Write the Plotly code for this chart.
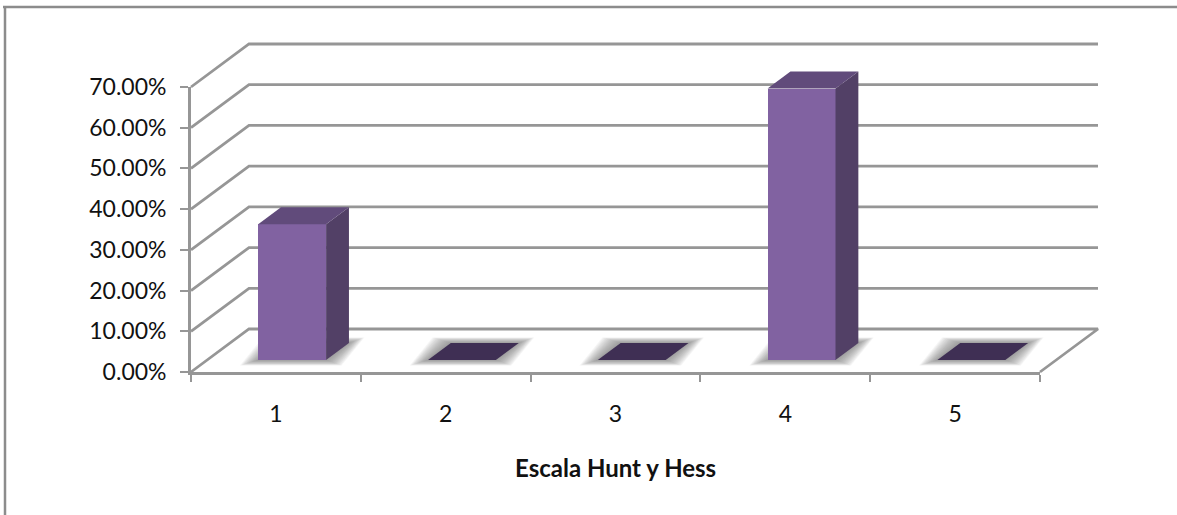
import plotly.graph_objects as go

# Datos del gráfico
categorias = [1, 2, 3, 4, 5]
porcentajes = [0.3333, 0.0, 0.0, 0.6667, 0.0]
marcas_y = [0.0, 0.1, 0.2, 0.3, 0.4, 0.5, 0.6, 0.7]
titulo_x = "Escala Hunt y Hess"

W, H = 1177, 515
FONT = "Lato"
GRIS = "#969696"

# Escala de los ejes frontales en píxeles por unidad
PX_X = 849 / 5
PX_Y = 285 / 0.7

# Proyección oblicua: desplazamiento del fondo en unidades de los ejes
DX = 58 / PX_X
DY = 43 / PX_Y
D_FRENTE, D_FONDO = 0.28, 0.674
ANCHO = 0.40

# Posición de los ejes frontales dentro de la página
X_IZQ, X_DER = 191, 1040
Y_ARR, Y_ABA = 87, 372
PAD = 8  # holgura para que las líneas del fondo no se recorten


def proy(x, v, d):
    return x + d * DX, v + d * DY


def poligono(puntos, color, eje=""):
    xs = [p[0] for p in puntos] + [puntos[0][0]]
    ys = [p[1] for p in puntos] + [puntos[0][1]]
    return go.Scatter(
        x=xs, y=ys, mode="lines", fill="toself", fillcolor=color,
        line=dict(width=0), hoverinfo="skip",
        showlegend=False, xaxis="x" + eje, yaxis="y" + eje,
    )


fig = go.Figure()
x_ini, x_fin = categorias[0] - 0.5, categorias[-1] + 0.5

# Paredes y suelo
for v in marcas_y:
    a = proy(x_ini, v, 0)
    b = proy(x_ini, v, 1)
    c = proy(x_fin, v, 1)
    xs, ys = [a[0], b[0], c[0]], [a[1], b[1], c[1]]
    if v == 0:
        d = proy(x_fin, v, 0)
        xs.append(d[0])
        ys.append(d[1])
    fig.add_trace(go.Scatter(
        x=xs, y=ys, mode="lines", line=dict(color=GRIS, width=2.8),
        hoverinfo="skip", showlegend=False,
    ))

# Sombra difusa sobre el suelo
for cat in categorias:
    x0 = cat - ANCHO / 2
    x1 = cat + ANCHO / 2
    for k in range(14, 0, -1):
        ex_izq = k * 1.3 / PX_X
        ex_der = k * 1.1 / PX_X
        ey = k * 0.4 / PX_Y
        fig.add_trace(poligono([
            (proy(x0, 0, D_FRENTE)[0] - ex_izq, proy(x0, 0, D_FRENTE)[1] - ey),
            (proy(x1, 0, D_FRENTE)[0] + ex_der, proy(x1, 0, D_FRENTE)[1] - ey),
            (proy(x1, 0, D_FONDO)[0] + ex_der, proy(x1, 0, D_FONDO)[1] + ey),
            (proy(x0, 0, D_FONDO)[0] - ex_izq, proy(x0, 0, D_FONDO)[1] + ey),
        ], "rgba(120,120,120,0.07)"))

# Ejes frontales visibles: necesitan un trazo propio, sin marcas
fig.add_trace(go.Scatter(
    x=categorias, y=porcentajes, mode="none", hoverinfo="skip",
    showlegend=False, xaxis="x2", yaxis="y2",
))

# Caras frontales de las columnas
fig.add_trace(go.Bar(
    x=[proy(c, 0, D_FRENTE)[0] for c in categorias],
    y=porcentajes,
    base=[proy(0, 0, D_FRENTE)[1]] * len(categorias),
    width=ANCHO,
    marker=dict(color="#8162a1", line=dict(width=0)),
    showlegend=False, xaxis="x3", yaxis="y3",
))

# Caras lateral y superior
for cat, v in zip(categorias, porcentajes):
    x0 = cat - ANCHO / 2
    x1 = cat + ANCHO / 2
    if v > 0:
        fig.add_trace(poligono([
            proy(x1, 0, D_FRENTE), proy(x1, 0, D_FONDO),
            proy(x1, v, D_FONDO), proy(x1, v, D_FRENTE),
        ], "#524066", "3"))
    fig.add_trace(poligono([
        proy(x0, v, D_FRENTE), proy(x1, v, D_FRENTE),
        proy(x1, v, D_FONDO), proy(x0, v, D_FONDO),
    ], "#614b7b" if v > 0 else "#3f2f54", "3"))

# Marco completo (ejes ocultos) y marco frontal (ejes con marcas)
dominio_x = [(X_IZQ - PAD) / W, (X_DER + 58 + PAD) / W]
dominio_y = [(H - Y_ABA - PAD) / H, (H - Y_ARR + 43 + PAD) / H]
rango_x = [x_ini - PAD / PX_X, x_fin + DX + PAD / PX_X]
rango_y = [-PAD / PX_Y, 0.7 + DY + PAD / PX_Y]
oculto = dict(visible=False, automargin=False, fixedrange=True)

fig.update_layout(
    width=W, height=H,
    margin=dict(l=0, r=0, t=0, b=0),
    paper_bgcolor="white", plot_bgcolor="rgba(0,0,0,0)",
    font=dict(family=FONT, color="#111111", size=23),
    bargap=0, showlegend=False,
    xaxis=dict(domain=dominio_x, range=rango_x, anchor="y", **oculto),
    yaxis=dict(domain=dominio_y, range=rango_y, anchor="x", **oculto),
    xaxis2=dict(
        domain=[X_IZQ / W, X_DER / W], range=[x_ini, x_fin],
        anchor="y2", automargin=False,
        showgrid=False, zeroline=False,
        showline=True, linecolor=GRIS, linewidth=2.8,
        tickmode="array", tickvals=categorias,
        ticktext=[str(c) for c in categorias],
        ticks="", ticklabelstandoff=19,
        tickfont=dict(family=FONT, size=23, color="#111111"),
        minor=dict(
            tickmode="array",
            tickvals=[c - 0.5 for c in categorias] + [x_fin],
            ticks="outside", ticklen=7, tickwidth=2, tickcolor=GRIS,
            showgrid=False,
        ),
    ),
    yaxis2=dict(
        domain=[(H - Y_ABA) / H, (H - Y_ARR) / H], range=[0, 0.7],
        anchor="x2", automargin=False,
        showgrid=False, zeroline=False,
        showline=True, linecolor=GRIS, linewidth=2.8,
        tickmode="array", tickvals=marcas_y, tickformat=".2%",
        ticks="outside", ticklen=8, tickwidth=2, tickcolor=GRIS,
        ticklabelstandoff=9,
        tickfont=dict(family=FONT, size=23, color="#111111"),
    ),
    xaxis3=dict(domain=dominio_x, range=rango_x, anchor="y3", **oculto),
    yaxis3=dict(domain=dominio_y, range=rango_y, anchor="x3", **oculto),
    shapes=[
        dict(type="line", xref="paper", yref="paper", x0=3 / W, x1=1,
             y0=1 - 7 / H, y1=1 - 7 / H, line=dict(color="#8c8c8c", width=2.5)),
        dict(type="line", xref="paper", yref="paper", x0=5 / W, x1=5 / W,
             y0=0, y1=1 - 6 / H, line=dict(color="#8c8c8c", width=2.5)),
    ],
    annotations=[
        dict(text="<b>" + titulo_x + "</b>", xref="paper", yref="paper",
             x=615.5 / W, y=1 - 467 / H, showarrow=False,
             xanchor="center", yanchor="middle",
             font=dict(family=FONT, size=24, color="#111111")),
    ],
)

fig.write_html("out.html")
